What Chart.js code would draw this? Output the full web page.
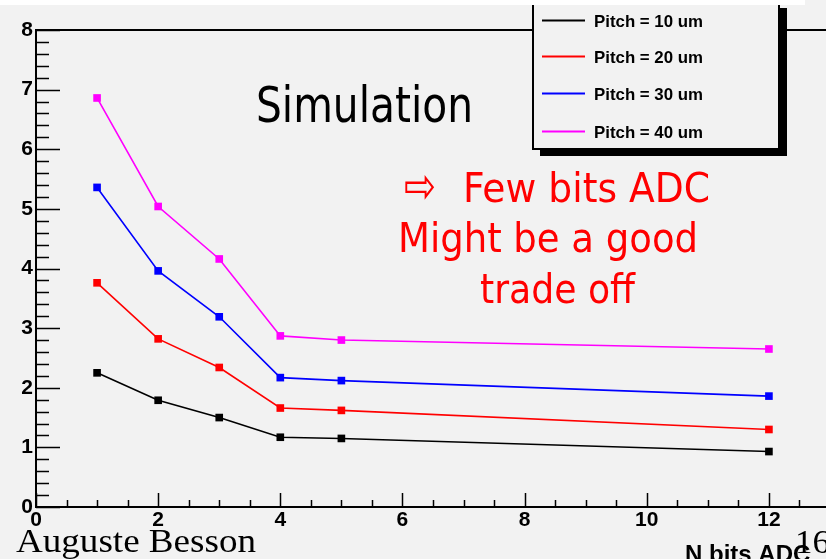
<!DOCTYPE html>
<html>
<head>
<meta charset="utf-8">
<script src="https://cdn.jsdelivr.net/npm/chart.js@4/dist/chart.umd.min.js"></script>
<style>
  html, body { margin: 0; padding: 0; background: #f2f2f2; }
  #wrap { width: 826px; height: 559px; overflow: hidden; position: relative; }
  canvas { display: block; }
</style>
</head>
<body>
<div id="wrap"><canvas id="c" width="840" height="559"></canvas></div>
<script>
// Resolution vs. number of ADC bits, one series per strip pitch
const nBits   = [1, 2, 3, 4, 5, 12];
const pitch10 = [2.25, 1.79, 1.50, 1.17, 1.15, 0.93];
const pitch20 = [3.76, 2.82, 2.34, 1.66, 1.62, 1.30];
const pitch30 = [5.36, 3.96, 3.19, 2.17, 2.12, 1.86];
const pitch40 = [6.86, 5.04, 4.16, 2.87, 2.80, 2.65];
const seriesLabels = ['Pitch = 10 um', 'Pitch = 20 um', 'Pitch = 30 um', 'Pitch = 40 um'];
const seriesColors = ['#000000', '#ff0000', '#0000ff', '#ff00ff'];
const xTicks = [0, 2, 4, 6, 8, 10, 12];
const yTicks = [0, 1, 2, 3, 4, 5, 6, 7, 8];
const xTitle = 'N bits ADC';
const noteArrow = '\u21E8';
const noteLines = ['Few bits ADC', 'Might be a good', 'trade off'];
const plotTitle = 'Simulation';
const author = 'Auguste Besson';
const pageNo = '16';

const seriesValues = [pitch10, pitch20, pitch30, pitch40];
const TICK_FONT = { family: '"Liberation Sans", Arial, sans-serif', size: 21, weight: 'bold' };

function toPoints(ys) { return nBits.map((x, i) => ({ x: x, y: ys[i] })); }

// draw a string squeezed/stretched to a given width
function fitText(ctx, text, x, y, w, font, color) {
  ctx.save();
  ctx.font = font;
  const m = ctx.measureText(text).width;
  ctx.translate(x, y);
  ctx.scale(w / m, 1);
  ctx.fillStyle = color;
  ctx.textAlign = 'left';
  ctx.textBaseline = 'alphabetic';
  ctx.fillText(text, 0, 0);
  ctx.restore();
}

const background = {
  id: 'background',
  beforeDraw(chart) {
    const ctx = chart.ctx;
    ctx.save();
    ctx.fillStyle = '#f2f2f2';
    ctx.fillRect(0, 0, chart.width, chart.height);
    ctx.restore();
  }
};

// frame, inward ticks, legend box and annotations
const decorations = {
  id: 'decorations',
  afterDraw(chart) {
    const ctx = chart.ctx;
    const a = chart.chartArea;
    const xs = chart.scales.x, ys = chart.scales.y;
    ctx.save();

    // frame
    ctx.strokeStyle = '#000';
    ctx.lineWidth = 2;
    ctx.strokeRect(a.left, a.top, a.right - a.left, a.bottom - a.top);

    // x ticks: minor every 0.5, major at labels
    ctx.lineWidth = 1.5;
    ctx.beginPath();
    for (let v = 0; v <= xs.max + 1e-9; v += 0.5) {
      const px = Math.round(xs.getPixelForValue(v)) + 0.5;
      const major = xTicks.includes(v);
      const len = major ? 14 : 7;
      ctx.moveTo(px, a.bottom);
      ctx.lineTo(px, a.bottom - len);
    }
    // y ticks: minor every 0.2, major at labels
    for (let k = 0; k <= 40; k++) {
      const v = k * 0.2;
      const py = Math.round(ys.getPixelForValue(v)) + 0.5;
      const major = k % 5 === 0;
      const len = major ? 24 : 13;
      ctx.moveTo(a.left, py);
      ctx.lineTo(a.left + len, py);
    }
    ctx.stroke();

    // legend with drop shadow
    ctx.fillStyle = '#000';
    ctx.fillRect(540, 8, 247, 148);
    ctx.fillStyle = '#f2f2f2';
    ctx.fillRect(532, -5, 248, 155);
    ctx.lineWidth = 2;
    ctx.strokeStyle = '#000';
    ctx.strokeRect(533, -4, 246, 153);
    const rows = [20, 56, 93, 131];
    chart.data.datasets.forEach((ds, i) => {
      const y = rows[i];
      ctx.strokeStyle = ds.borderColor;
      ctx.lineWidth = 2;
      ctx.beginPath();
      ctx.moveTo(542, y + 0.5);
      ctx.lineTo(585, y + 0.5);
      ctx.stroke();
      fitText(ctx, ds.label, 594, y + 6.5, 109, 'bold 17px "Liberation Sans", Arial, sans-serif', '#000');
    });

    // annotations
    const sans = '"DejaVu Sans Condensed", "DejaVu Sans", sans-serif';
    fitText(ctx, plotTitle, 256, 122, 217, '50px ' + sans, '#000');
    fitText(ctx, noteArrow, 404, 203, 32, '50px "DejaVu Sans", sans-serif', '#ff0000');
    fitText(ctx, noteLines[0], 463, 202, 247, '41px ' + sans, '#ff0000');
    fitText(ctx, noteLines[1], 398, 252, 300, '41px ' + sans, '#ff0000');
    fitText(ctx, noteLines[2], 480, 303, 155, '41px ' + sans, '#ff0000');

    // axis title, author and page number
    ctx.fillStyle = '#000';
    ctx.font = 'bold 24px "Liberation Sans", Arial, sans-serif';
    ctx.textBaseline = 'alphabetic';
    ctx.textAlign = 'left';
    ctx.fillText(xTitle, 685, 562);
    fitText(ctx, author, 16, 552, 240, '33px "Liberation Serif", "Times New Roman", serif', '#000');
    fitText(ctx, pageNo, 795, 553, 35, '34px "Liberation Serif", "Times New Roman", serif', '#000');

    // white strip along the top edge
    ctx.fillStyle = '#ffffff';
    ctx.fillRect(0, 0, 805, 5);
    ctx.restore();
  }
};

new Chart(document.getElementById('c'), {
  type: 'line',
  data: {
    datasets: seriesValues.map((vals, i) => ({
      label: seriesLabels[i],
      data: toPoints(vals),
      borderColor: seriesColors[i],
      backgroundColor: seriesColors[i],
      pointBackgroundColor: seriesColors[i],
      borderWidth: 1.6,
      pointStyle: 'rect',
      pointRadius: 5.4,
      pointBorderWidth: 0,
      tension: 0,
      fill: false
    }))
  },
  options: {
    responsive: false,
    animation: false,
    devicePixelRatio: 1,
    layout: { padding: { left: 0, top: 30, right: 10, bottom: 0 } },
    plugins: { legend: { display: false }, tooltip: { enabled: false } },
    scales: {
      x: {
        type: 'linear',
        min: 0,
        max: 13,
        grid: { display: false, drawTicks: false },
        border: { display: false },
        afterBuildTicks(scale) { scale.ticks = xTicks.map(v => ({ value: v })); },
        afterFit(scale) { scale.height = 52; },
        ticks: { color: '#000', font: TICK_FONT, padding: 1, maxRotation: 0, autoSkip: false }
      },
      y: {
        type: 'linear',
        min: 0,
        max: 8,
        grid: { display: false, drawTicks: false },
        border: { display: false },
        afterBuildTicks(scale) { scale.ticks = yTicks.map(v => ({ value: v })); },
        afterFit(scale) { scale.width = 36; },
        ticks: { color: '#000', font: TICK_FONT, padding: 3, autoSkip: false }
      }
    }
  },
  plugins: [background, decorations]
});
</script>
</body>
</html>
